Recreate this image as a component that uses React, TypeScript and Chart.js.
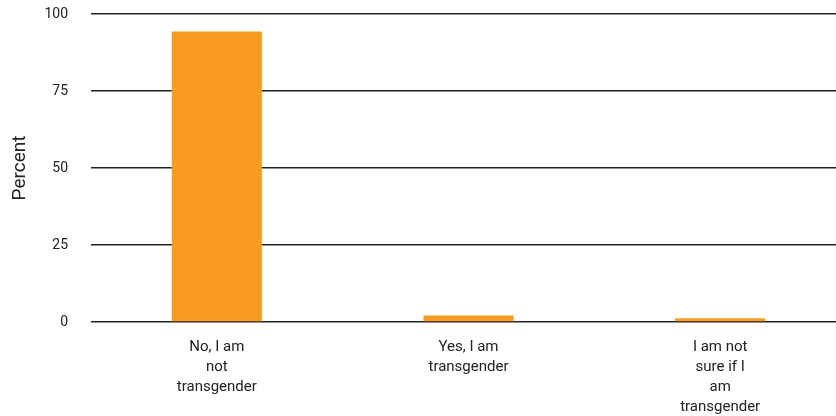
import React, { useEffect, useRef } from "react";
import { Chart, registerables } from "chart.js";

Chart.register(...registerables);

const categories: string[][] = [
  ["No, I am", "not", "transgender"],
  ["Yes, I am", "transgender"],
  ["I am not", "sure if I", "am", "transgender"],
];
const percentValues: number[] = [94.3, 2.1, 1.2];
const yTicks: number[] = [0, 25, 50, 75, 100];

export default function App() {
  const ref = useRef<HTMLCanvasElement | null>(null);
  useEffect(() => {
    document.body.style.margin = "0";
    document.body.style.overflow = "hidden";
    const ctx = ref.current!;
    const chart = new Chart(ctx, {
      type: "bar",
      data: {
        labels: categories,
        datasets: [
          {
            data: percentValues,
            backgroundColor: "#F79C21",
            borderWidth: 0,
            barPercentage: 0.358,
            categoryPercentage: 1,
          },
        ],
      },
      options: {
        animation: false,
        responsive: false,
        maintainAspectRatio: false,
        layout: { padding: 0 },
        plugins: { legend: { display: false }, tooltip: { enabled: false } },
        scales: {
          x: {
            grid: { display: false, drawTicks: false },
            border: { display: false },
            ticks: {
              color: "#222",
              font: { family: "Roboto", size: 15, lineHeight: 1.333 },
              padding: 15,
              maxRotation: 0,
              autoSkip: false,
            },
            afterFit: (s: any) => {
              s.height = 94;
            },
          },
          y: {
            min: 0,
            max: 100,
            afterBuildTicks: (s: any) => {
              s.ticks = yTicks.map((v) => ({ value: v }));
            },
            grid: { color: "#222", lineWidth: 1.5, drawTicks: false },
            border: { display: false },
            ticks: {
              color: "#222",
              font: { family: "Roboto", size: 14 },
              padding: 23,
            },
            title: {
              display: true,
              text: "Percent",
              color: "#222",
              font: { family: "Roboto", size: 19 },
              padding: { top: 9, bottom: 4 },
            },
            afterFit: (s: any) => {
              s.width = 91;
              s.paddingTop = 14;
              s.paddingBottom = 0;
            },
          },
        },
      },
    });
    return () => chart.destroy();
  }, []);
  return (
    <div style={{ width: 836, height: 416, overflow: "hidden", position: "relative" }}>
      <canvas ref={ref} width={846} height={416} style={{ display: "block" }} />
    </div>
  );
}
